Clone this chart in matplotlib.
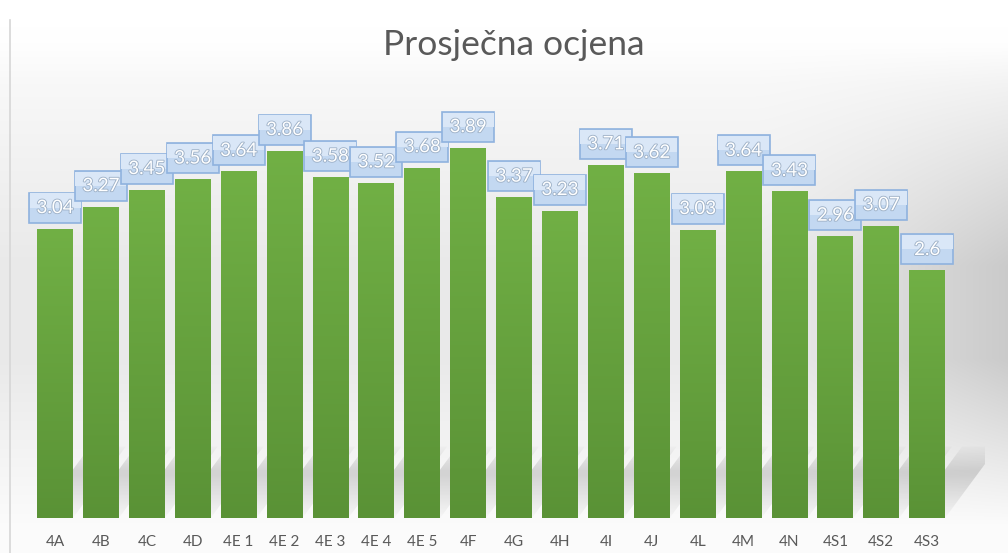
import numpy as np
import matplotlib
matplotlib.use("Agg")
import matplotlib.pyplot as plt
from matplotlib.patches import Polygon, FancyBboxPatch
import matplotlib.patheffects as pe
from matplotlib.lines import Line2D

categories = ["4A", "4B", "4C", "4D", "4E 1", "4E 2", "4E 3", "4E 4", "4E 5", "4F",
              "4G", "4H", "4I", "4J", "4L", "4M", "4N", "4S1", "4S2", "4S3"]
values = [3.04, 3.27, 3.45, 3.56, 3.64, 3.86, 3.58, 3.52, 3.68, 3.89,
          3.37, 3.23, 3.71, 3.62, 3.03, 3.64, 3.43, 2.96, 3.07, 2.6]
title = "Prosječna ocjena"

plt.rcParams['font.family'] = ['Lato', 'DejaVu Sans']

W, H = 1008, 553
fig = plt.figure(figsize=(W / 100, H / 100), dpi=100)
fig.patch.set_facecolor("white")

# background gradient
bg = fig.add_axes([0, 0, 1, 1], zorder=-5)
yy, xx = np.mgrid[0:1:300j, 0:1:500j]  # yy: 0 top -> 1 bottom
vert = np.clip((yy - 0.08) / 0.40, 0, 1) * np.clip((0.95 - yy) / 0.30, 0, 1)
horiz = np.clip((xx - 0.75) / 0.25, 0, 1) ** 1.3
shade = 1.0 - 0.07 * vert - 0.12 * vert * horiz - 0.015 * np.clip((yy - 0.05) / 0.1, 0, 1)
img = np.dstack([shade, shade, shade])
bg.imshow(img, extent=[0, 1, 0, 1], aspect="auto", origin="upper", interpolation="bilinear")
bg.set_axis_off()
bg.add_line(Line2D([10 / W, 10 / W], [0, 1 - 20 / H], color="#d6d6d6", lw=1.2))

ax = fig.add_axes([22 / W, 35 / H, (985 - 22) / W, (420) / H])
XL = (-0.72, 20.26)
YL = (0, 420 / 95.2)
ax.patch.set_alpha(0)
for s in ax.spines.values():
    s.set_visible(False)
ax.tick_params(left=False, bottom=False, labelleft=False)

x = np.arange(len(categories))
bw = 0.78
bars = ax.bar(x, values, width=bw, color="#6aa83f", zorder=3)

# gradient fill on bars
grad = np.linspace(0, 1, 256).reshape(-1, 1)
top_c = np.array([0x71, 0xb0, 0x45]) / 255
bot_c = np.array([0x5a, 0x92, 0x36]) / 255
gimg = top_c[None, None, :] * (1 - grad[:, :, None]) + bot_c[None, None, :] * grad[:, :, None]
for b in bars:
    x0, w, h = b.get_x(), b.get_width(), b.get_height()
    im = ax.imshow(gimg, extent=[x0, x0 + w, 0, h], aspect="auto", origin="upper", zorder=4)
    im.set_clip_path(b)

# floor shadows (soft)
t = np.linspace(0, 1, 256)  # 0 top -> 1 bottom (origin upper)
alpha = 0.26 * np.clip(t / 0.35, 0, 1) * np.clip((1 - t) / 0.6, 0, 1) + 0.03
shimg = np.zeros((256, 1, 4))
shimg[..., :3] = 0.5
shimg[:, 0, 3] = alpha
for b in bars:
    x0, w = b.get_x(), b.get_width()
    dx, dy = 1.15, 0.75
    poly = Polygon([(x0, 0), (x0 + w, 0), (x0 + w + dx, dy), (x0 + dx, dy)],
                   closed=True, facecolor="none", edgecolor="none")
    ax.add_patch(poly)
    im = ax.imshow(shimg, extent=[x0, x0 + w + dx, 0, dy], aspect="auto",
                   origin="upper", zorder=2, interpolation="bilinear")
    im.set_clip_path(poly)
ax.set_xlim(*XL)
ax.set_ylim(*YL)

# data labels
px_per_y = 95.2
px_per_x = 963 / (XL[1] - XL[0])
box_w = 52 / px_per_x
box_h = 30 / px_per_y
gap = 6 / px_per_y
for xi, v in zip(x, values):
    y0 = v + gap
    box = FancyBboxPatch((xi - box_w / 2, y0), box_w, box_h,
                         boxstyle="square,pad=0", facecolor="#c3d8f1",
                         edgecolor="#8fb2de", lw=1.2, zorder=6)
    ax.add_patch(box)
    ax.add_patch(FancyBboxPatch((xi - box_w / 2 + 0.01, y0 + box_h * 0.5), box_w - 0.02, box_h * 0.47,
                                boxstyle="square,pad=0", facecolor="#dae7f7",
                                edgecolor="none", zorder=6))
    ax.text(xi, y0 + box_h / 2, f"{v:g}", ha="center", va="center", fontsize=13.5,
            color="white", zorder=7,
            path_effects=[pe.withStroke(linewidth=1.3, foreground="#9fb2c8")])

ax.set_xticks(x)
ax.set_xticklabels(categories, fontsize=11, color="#595959")
ax.tick_params(axis="x", pad=9)

fig.text(514 / W, 1 - 45 / H, title, ha="center", va="center", fontsize=25.5, color="#595959")

fig.savefig("out.png", dpi=100)
